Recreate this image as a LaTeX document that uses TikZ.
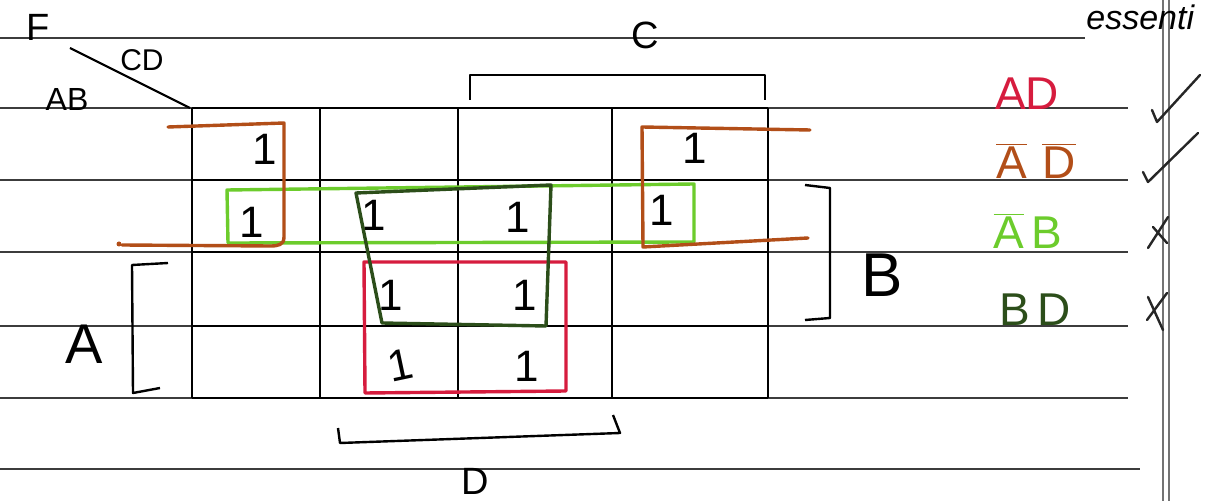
\documentclass[tikz,border=0pt]{standalone}
\usepackage{fontspec}
\setmainfont{Liberation Sans}
\definecolor{kred}{RGB}{214,28,62}
\definecolor{kbrown}{RGB}{178,78,24}
\definecolor{klgreen}{RGB}{108,204,44}
\definecolor{kdgreen}{RGB}{44,78,26}
\definecolor{paperline}{RGB}{60,60,60}
\begin{document}
\begin{tikzpicture}[x=0.5pt,y=-0.5pt,
  paper/.style={draw=paperline,line width=0.6pt},
  gridline/.style={draw=black,line width=1.1pt},
  bracket/.style={draw=black,line width=1.2pt,line join=round},
  loopline/.style={line width=1.7pt,line join=round,line cap=round},
  one/.style={inner sep=0pt,font=\fontsize{22}{22}\selectfont},
  lbl/.style={inner sep=0pt,font=\fontsize{#1}{#1}\selectfont},
  tickmark/.style={draw=black!85,line width=1.2pt,line cap=round,line join=round}]
\useasboundingbox (0,0) rectangle (1219,501);
\fill[white] (0,0) rectangle (1219,501);
% paper ruling
\draw[paper] (0,38) -- (1085,38);
\foreach \yy in {108,180,252,326,398} {\draw[paper] (0,\yy) -- (1128,\yy);}
\draw[paper] (0,469) -- (1140,469);
\draw[draw=black!55,line width=0.8pt] (1163,0) -- (1163,501);
\draw[draw=black!55,line width=0.8pt] (1169,0) -- (1169,501);
% K-map grid
\foreach \yy in {108,180,252,326,398} {\draw[gridline] (192,\yy) -- (768,\yy);}
\foreach \xx in {192,320,458,612,768} {\draw[gridline] (\xx,108) -- (\xx,398);}
% corner labels
\coordinate (diagA) at (70,48);
\coordinate (diagB) at (190,108);
\draw[black,line width=1.1pt] (diagA) -- (diagB);
\node[lbl=19] (F) at (38,27) {F};
\node[lbl=15] (CD) at (142,60) {CD};
\node[lbl=16] (AB) at (67,99) {AB};
% ones
\node[one] (m0) at (265,149) {1};
\node[one] (m4) at (252,222) {1};
\node[one] (m2) at (695,148) {1};
\node[one] (m6) at (662,210) {1};
\node[one] (m5) at (374,215) {1};
\node[one] (m7) at (518,217) {1};
\node[one] (m13) at (391,295) {1};
\node[one] (m15) at (525,295) {1};
\node[one,rotate=12] (m9) at (400,365) {1};
\node[one] (m11) at (527,366) {1};
% groups
\draw[loopline,kred] (364,262) -- (566,262) -- (566,391) -- (365,393) -- cycle;
\draw[loopline,klgreen] (227,190) -- (694,184) -- (694,242) -- (228,243) -- cycle;
\draw[loopline,kdgreen] (356,193) -- (551,185) -- (546,326) -- (382,323) -- cycle;
\draw[loopline,kbrown] (168,127) -- (284,123) -- (284,237) .. controls (284,245) and (278,246) .. (270,246) -- (122,245);
\fill[kbrown] (119,244) circle (2.5);
\draw[loopline,kbrown] (810,130) -- (642,127) -- (643,247) -- (808,238);
% brackets
\draw[bracket] (470,100) -- (470,75) -- (765,75) -- (765,100);
\node[lbl=19] (C) at (645,35) {C};
\draw[bracket] (805,185) -- (830,188) -- (830,318) -- (805,320);
\node[lbl=31] (B) at (882,275) {B};
\draw[bracket] (168,263) -- (132,265) -- (133,393) -- (160,388);
\node[lbl=28] (A) at (84,344) {A};
\draw[bracket] (338,428) -- (340,443) -- (620,433) -- (613,415);
\node[lbl=19] (D) at (475,481) {D};
% prime implicants
\node[lbl=23,text=kred] (pAD) at (1027,94) {AD};
\node[lbl=23,text=kbrown] (pAnDn) at (1036,161) {$\overline{\mbox{A}}$\,\,$\overline{\mbox{D}}$};
\node[lbl=23,text=klgreen] (pAnB) at (1028,231) {$\overline{\mbox{A}}$\,B};
\node[lbl=23,text=kdgreen] (pBD) at (1035,310) {B\,D};
\node[anchor=base west,inner sep=0pt,font=\fontsize{17}{17}\selectfont\itshape] (ess) at (1086,30) {essenti};
% check marks
\draw[tickmark] (1152,110) -- (1157,122) -- (1200,75);
\draw[tickmark] (1143,172) -- (1148,182) -- (1198,133);
\draw[tickmark] (1148,248) -- (1168,217);
\draw[tickmark] (1153,227) -- (1167,243);
\draw[tickmark] (1147,320) -- (1167,293);
\draw[tickmark] (1148,297) -- (1163,330);
\end{tikzpicture}
\end{document}
